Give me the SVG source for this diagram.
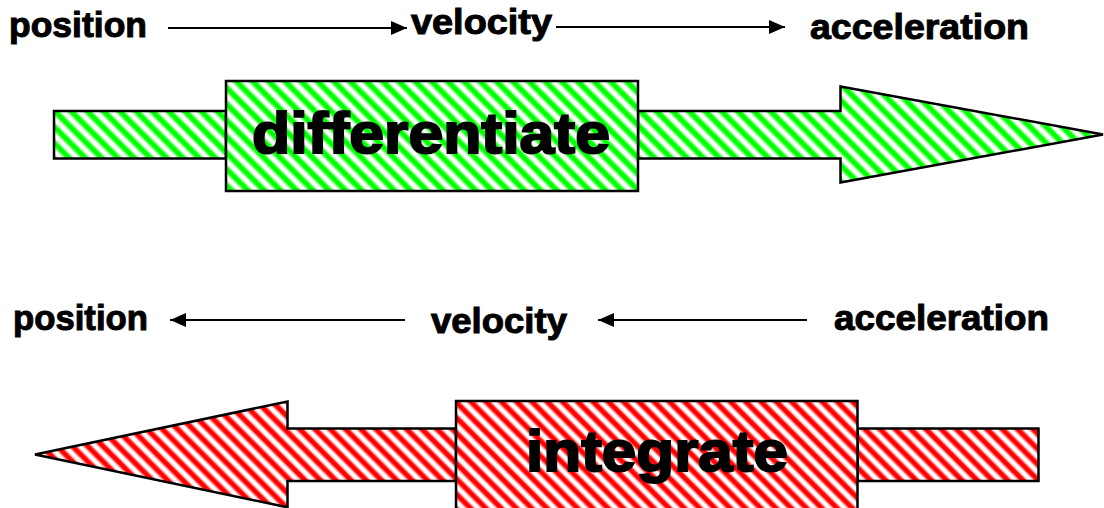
<svg xmlns="http://www.w3.org/2000/svg" width="1104" height="508" viewBox="0 0 1104 508">
<style>
.lbl{font-family:"Liberation Sans",Arial,sans-serif;font-weight:bold;font-size:35px;fill:#000;stroke:#000;stroke-width:1px}
.big{font-family:"Liberation Sans",Arial,sans-serif;font-weight:bold;font-size:57px;fill:#000;stroke:#000;stroke-width:2px}
.g{fill:url(#hatchG);stroke:#000;stroke-width:2.5}
.r{fill:url(#hatchR);stroke:#000;stroke-width:2.5}
.conn{stroke:#000;stroke-width:2.2;fill:none;marker-end:url(#ah)}
</style>
<defs>
<linearGradient id="gradG" x1="0" y1="0" x2="0" y2="1">
<stop offset="0.1" stop-color="#fff"/><stop offset="0.33" stop-color="#00ff00"/><stop offset="0.6" stop-color="#00ff00"/><stop offset="0.85" stop-color="#fff"/>
</linearGradient>
<linearGradient id="gradR" x1="0" y1="0" x2="0" y2="1">
<stop offset="0.1" stop-color="#fff"/><stop offset="0.33" stop-color="#ff0000"/><stop offset="0.6" stop-color="#ff0000"/><stop offset="0.85" stop-color="#fff"/>
</linearGradient>
<pattern id="hatchG" patternUnits="userSpaceOnUse" width="11.5" height="11.5" patternTransform="rotate(45)">
<rect width="11.5" height="11.5" fill="url(#gradG)"/>
</pattern>
<pattern id="hatchR" patternUnits="userSpaceOnUse" width="10.8" height="10.8" patternTransform="rotate(45)">
<rect width="10.8" height="10.8" fill="url(#gradR)"/>
</pattern>
<marker id="ah" markerUnits="userSpaceOnUse" markerWidth="16" markerHeight="14" viewBox="0 0 16 14" refX="16" refY="7" orient="auto">
<path d="M0,0 L16,7 L0,14 z" fill="#000"/>
</marker>
</defs>

<g id="connectors">
<line class="conn" x1="168" y1="28" x2="407" y2="28"/>
<line class="conn" x1="556" y1="27" x2="785" y2="27"/>
<line class="conn" x1="405" y1="320" x2="170" y2="320"/>
<line class="conn" x1="807" y1="320" x2="598" y2="320"/>
</g>

<g id="top-position"><text class="lbl" x="9" y="37" textLength="138" lengthAdjust="spacingAndGlyphs">position</text></g>
<g id="top-velocity"><text class="lbl" x="411" y="34" textLength="141" lengthAdjust="spacingAndGlyphs">velocity</text></g>
<g id="top-acceleration"><text class="lbl" x="810" y="39" textLength="219" lengthAdjust="spacingAndGlyphs">acceleration</text></g>

<g id="bot-position"><text class="lbl" x="13" y="330" textLength="135" lengthAdjust="spacingAndGlyphs">position</text></g>
<g id="bot-velocity"><text class="lbl" x="431" y="333" textLength="136" lengthAdjust="spacingAndGlyphs">velocity</text></g>
<g id="bot-acceleration"><text class="lbl" x="834" y="330" textLength="215" lengthAdjust="spacingAndGlyphs">acceleration</text></g>

<g id="differentiate-arrow">
<rect class="g" x="54" y="111" width="172" height="47.5"/>
<polygon class="g" points="638,111 840.5,111 840.5,86.5 1103,134.5 840.5,182.5 840.5,158.5 638,158.5"/>
<rect class="g" x="226" y="81" width="412" height="110"/>
<text class="big" x="252" y="153" textLength="358" lengthAdjust="spacingAndGlyphs">differentiate</text>
</g>

<g id="integrate-arrow">
<polygon class="r" points="35,454.5 287.5,401.5 287.5,428.5 456,428.5 456,481 287.5,481 287.5,507.3"/>
<rect class="r" x="857.5" y="428.5" width="181" height="52.5"/>
<rect class="r" x="456" y="401" width="401.5" height="112"/>
<text class="big" x="526" y="471" textLength="262" lengthAdjust="spacingAndGlyphs">integrate</text>
</g>
</svg>
